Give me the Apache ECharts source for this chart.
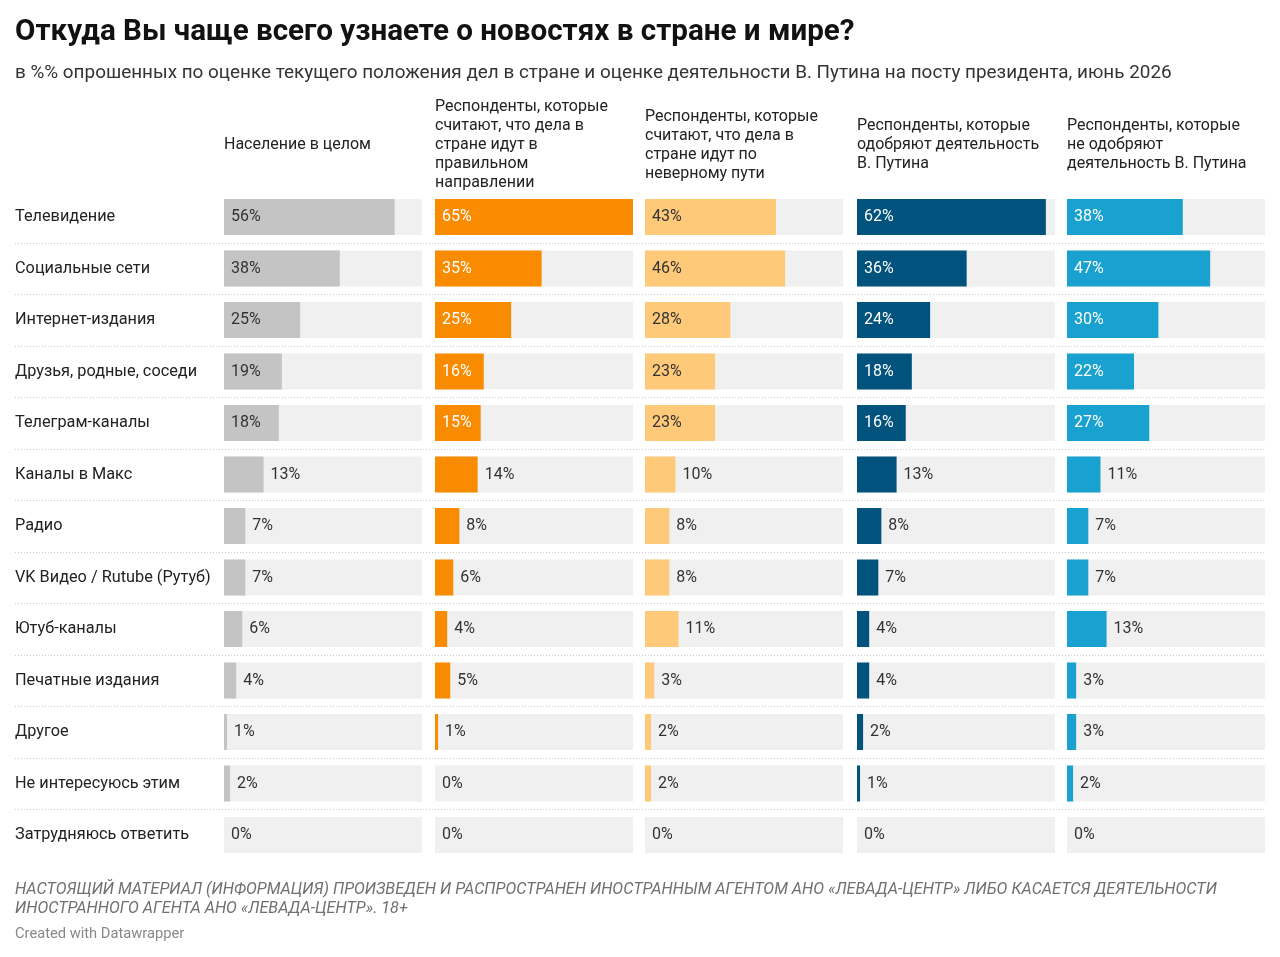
<!DOCTYPE html>
<html>
<head>
    <meta charset="utf-8">
    <title>Откуда Вы чаще всего узнаете о новостях</title>
    <script src="https://cdn.jsdelivr.net/npm/echarts@6/dist/echarts.min.js"></script>
    <style>
        html, body { margin: 0; padding: 0; background: #fff; }
        #main { width: 1280px; height: 957px; }
    </style>
</head>
<body>
<div id="main"></div>
<script type="text/javascript">
    // данные
    var categories = ['Телевидение', 'Социальные сети', 'Интернет-издания', 'Друзья, родные, соседи',
        'Телеграм-каналы', 'Каналы в Макс', 'Радио', 'VK Видео / Rutube (Рутуб)', 'Ютуб-каналы',
        'Печатные издания', 'Другое', 'Не интересуюсь этим', 'Затрудняюсь ответить'];
    var groupNames = [
        'Население в целом',
        'Респонденты, которые\nсчитают, что дела в\nстране идут в\nправильном\nнаправлении',
        'Респонденты, которые\nсчитают, что дела в\nстране идут по\nневерному пути',
        'Респонденты, которые\nодобряют деятельность\nВ. Путина',
        'Респонденты, которые\nне одобряют\nдеятельность В. Путина'
    ];
    var allPop     = [56, 38, 25, 19, 18, 13, 7, 7, 6, 4, 1, 2, 0];
    var rightWay   = [65, 35, 25, 16, 15, 14, 8, 6, 4, 5, 1, 0, 0];
    var wrongWay   = [43, 46, 28, 23, 23, 10, 8, 8, 11, 3, 2, 2, 0];
    var approve    = [62, 36, 24, 18, 16, 13, 8, 7, 4, 4, 2, 1, 0];
    var disapprove = [38, 47, 30, 22, 27, 11, 7, 7, 13, 3, 3, 2, 0];
    var groups = [allPop, rightWay, wrongWay, approve, disapprove];
    var scaleMax = 65;

    var colors = ['#c4c4c4', '#f98b00', '#fec978', '#01527c', '#19a1cf'];
    var insideText = ['#333333', '#ffffff', '#333333', '#ffffff', '#ffffff'];
    var gridLefts = [224, 435, 645, 857, 1067];
    var gridWidth = 198;
    var gridTop = 191.25;
    var rowPitch = 51.5;
    var font = 'Roboto, "Noto Sans", sans-serif';

    var myChart = echarts.init(document.getElementById('main'), null, {renderer: 'canvas'});

    var grids = [], xAxes = [], yAxes = [], series = [], graphics = [];
    groups.forEach(function (vals, g) {
        grids.push({left: gridLefts[g], top: gridTop, width: gridWidth, height: rowPitch * categories.length});
        xAxes.push({type: 'value', gridIndex: g, min: 0, max: scaleMax, show: false});
        yAxes.push({
            type: 'category', gridIndex: g, data: categories, inverse: true,
            axisLine: {show: false}, axisTick: {show: false}, splitLine: {show: false},
            axisLabel: {
                show: g === 0, align: 'left', margin: gridLefts[0] - 15,
                fontFamily: font, fontSize: 16.3, color: '#222'
            }
        });
        // фон
        series.push({
            type: 'bar', xAxisIndex: g, yAxisIndex: g, barWidth: 36, silent: true,
            data: categories.map(function () { return scaleMax; }),
            itemStyle: {color: '#f0f0f0'}, z: 1, animation: false
        });
        series.push({
            type: 'bar', xAxisIndex: g, yAxisIndex: g, barWidth: 36, barGap: '-100%',
            z: 2, animation: false,
            itemStyle: {color: colors[g]},
            data: vals.map(function (v) {
                var inside = v >= 15;
                return {
                    value: v,
                    label: {
                        show: true,
                        position: inside ? 'insideLeft' : 'right',
                        distance: 7,
                        formatter: v + '%',
                        fontFamily: font, fontSize: 16,
                        color: inside ? insideText[g] : '#333'
                    }
                };
            })
        });
        graphics.push({
            type: 'text', x: gridLefts[g], y: 145,
            style: {
                text: groupNames[g], font: '16px ' + font, fill: '#222',
                lineHeight: 19, verticalAlign: 'middle', align: 'left'
            }
        });
    });

    graphics.push(
        {type: 'text', x: 15, y: 33, style: {text: 'Откуда Вы чаще всего узнаете о новостях в стране и мире?',
            font: 'bold 29.6px ' + font, fill: '#111', verticalAlign: 'middle'}},
        {type: 'text', x: 15, y: 73, style: {text: 'в %% опрошенных по оценке текущего положения дел в стране и оценке деятельности В. Путина на посту президента, июнь 2026',
            font: '18.9px ' + font, fill: '#333', verticalAlign: 'middle'}},
        {type: 'text', x: 15, y: 899, style: {text: 'НАСТОЯЩИЙ МАТЕРИАЛ (ИНФОРМАЦИЯ) ПРОИЗВЕДЕН И РАСПРОСТРАНЕН ИНОСТРАННЫМ АГЕНТОМ АНО «ЛЕВАДА-ЦЕНТР» ЛИБО КАСАЕТСЯ ДЕЯТЕЛЬНОСТИ\nИНОСТРАННОГО АГЕНТА АНО «ЛЕВАДА-ЦЕНТР». 18+',
            font: 'italic 16.2px ' + font, fill: '#707070', lineHeight: 19, verticalAlign: 'middle'}},
        {type: 'text', x: 15, y: 934, style: {text: 'Created with Datawrapper',
            font: '14.7px ' + font, fill: '#888', verticalAlign: 'middle'}}
    );

    var option = {
        backgroundColor: '#fff',
        grid: grids,
        xAxis: xAxes,
        yAxis: yAxes,
        series: series,
        graphic: graphics
    };
    myChart.setOption(option);

    // пунктирные разделители между строками
    var seps = [];
    for (var i = 0; i < categories.length - 1; i++) {
        var y1 = myChart.convertToPixel({gridIndex: 0}, [0, categories[i]])[1];
        var y2 = myChart.convertToPixel({gridIndex: 0}, [0, categories[i + 1]])[1];
        var y = Math.round((y1 + y2) / 2) + 0.5;
        seps.push({
            type: 'line', silent: true,
            shape: {x1: 15, y1: y, x2: 1265, y2: y},
            style: {stroke: '#c8c8c8', lineWidth: 1, lineDash: [1, 2]}
        });
    }
    myChart.setOption({graphic: graphics.concat(seps)});
</script>
</body>
</html>
